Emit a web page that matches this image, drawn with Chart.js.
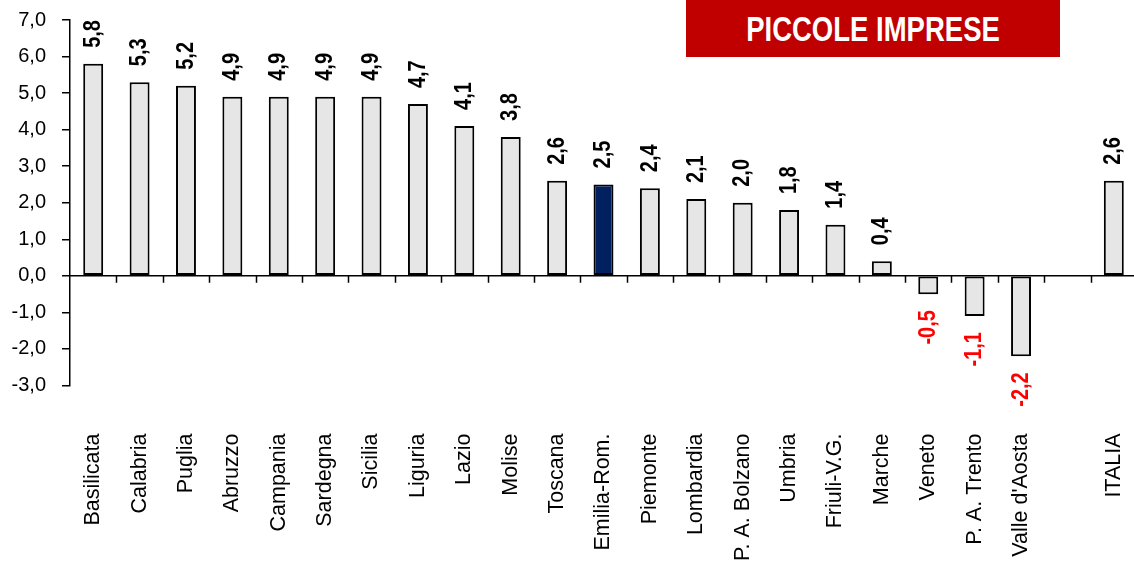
<!DOCTYPE html>
<html>
<head>
<meta charset="utf-8">
<script src="https://cdn.jsdelivr.net/npm/chart.js@4"></script>
<style>
  html, body { margin: 0; padding: 0; background: #fff; overflow: hidden; }
  #wrap { position: relative; width: 1140px; height: 563px; }
  #title {
    position: absolute; left: 686px; top: 0; width: 374px; height: 57px;
    background: #c00000; color: #fff;
    font: bold 27.5px "Liberation Sans", Arial, sans-serif;
    display: flex; align-items: center; justify-content: center;
  }
  #title span { display: inline-block; transform: scaleY(1.3); }
</style>
</head>
<body>
<div id="wrap">
  <canvas id="chart" width="1140" height="563"></canvas>
  <div id="title"><span>PICCOLE IMPRESE</span></div>
</div>
<script>
const regions = ['Basilicata', 'Calabria', 'Puglia', 'Abruzzo', 'Campania', 'Sardegna', 'Sicilia',
  'Liguria', 'Lazio', 'Molise', 'Toscana', 'Emilia-Rom.', 'Piemonte', 'Lombardia', 'P. A. Bolzano',
  'Umbria', 'Friuli-V.G.', 'Marche', 'Veneto', 'P. A. Trento', "Valle d'Aosta", '', 'ITALIA'];
const values = [5.8, 5.3, 5.2, 4.9, 4.9, 4.9, 4.9, 4.7, 4.1, 3.8, 2.6, 2.5, 2.4, 2.1, 2.0,
  1.8, 1.4, 0.4, -0.5, -1.1, -2.2, null, 2.6];
const highlight = 'Emilia-Rom.';
const yTicks = [-3, -2, -1, 0, 1, 2, 3, 4, 5, 6, 7];

const fmt = v => v.toFixed(1).replace('.', ',');

// zero line with category ticks + rotated value labels
const zeroAxis = {
  id: 'zeroAxis',
  afterDatasetsDraw(chart) {
    const { ctx, chartArea, scales } = chart;
    const x = scales.x, y = scales.y;
    const y0 = y.getPixelForValue(0);
    const step = x.getPixelForValue(1) - x.getPixelForValue(0);
    ctx.save();
    ctx.strokeStyle = '#000';
    ctx.lineWidth = 1.5;
    ctx.beginPath();
    ctx.moveTo(chartArea.left, y0);
    ctx.lineTo(chartArea.right, y0);
    for (let i = 1; i < regions.length; i++) {
      const bx = Math.round(x.getPixelForValue(i) - step / 2) + 0.5;
      ctx.moveTo(bx, y0);
      ctx.lineTo(bx, y0 + 7);
    }
    ctx.stroke();

    const meta = chart.getDatasetMeta(0);
    ctx.font = 'bold 20px "Liberation Sans", Arial, sans-serif';
    ctx.textBaseline = 'middle';
    meta.data.forEach((bar, i) => {
      const v = values[i];
      if (v === null) return;
      ctx.save();
      ctx.translate(bar.x, bar.y);
      ctx.rotate(-Math.PI / 2);
      ctx.scale(1, 1.2);
      if (v >= 0) {
        ctx.fillStyle = '#000';
        ctx.textAlign = 'left';
        ctx.fillText(fmt(v), 16, 0);
      } else {
        ctx.fillStyle = '#ff0000';
        ctx.textAlign = 'right';
        ctx.fillText(fmt(v), -16, 0);
      }
      ctx.restore();
    });
    ctx.restore();
  }
};

new Chart(document.getElementById('chart'), {
  type: 'bar',
  data: {
    labels: regions,
    datasets: [{
      data: values,
      backgroundColor: regions.map(r => r === highlight ? '#002060' : '#e6e6e6'),
      borderColor: '#000',
      borderWidth: 2,
      borderSkipped: false,
      categoryPercentage: 1,
      barPercentage: 0.43
    }]
  },
  options: {
    responsive: false,
    animation: false,
    layout: { padding: { top: 20, right: 3, bottom: 0, left: 0 } },
    plugins: { legend: { display: false }, tooltip: { enabled: false } },
    scales: {
      x: {
        grid: { display: false, drawTicks: false },
        border: { display: false },
        ticks: {
          autoSkip: false,
          minRotation: 90,
          maxRotation: 90,
          padding: 48,
          color: '#000',
          font: { family: '"Liberation Sans", Arial, sans-serif', size: 21.5 }
        },
        afterFit: s => {
          s.height = 177.5;
          s.paddingLeft = 0;
          s.paddingRight = 0;
        }
      },
      y: {
        min: -3,
        max: 7,
        afterBuildTicks: s => { s.ticks = yTicks.map(v => ({ value: v })); },
        grid: { drawOnChartArea: false, tickLength: 8, color: '#000', lineWidth: 1.5 },
        border: { color: '#000', width: 1.5 },
        ticks: {
          padding: 16,
          color: '#000',
          font: { family: '"Liberation Sans", Arial, sans-serif', size: 20 },
          callback: v => fmt(v)
        },
        afterFit: s => {
          s.width = 70;
          s.paddingTop = 0;
          s.paddingBottom = 0;
        }
      }
    }
  },
  plugins: [zeroAxis]
});
</script>
</body>
</html>
